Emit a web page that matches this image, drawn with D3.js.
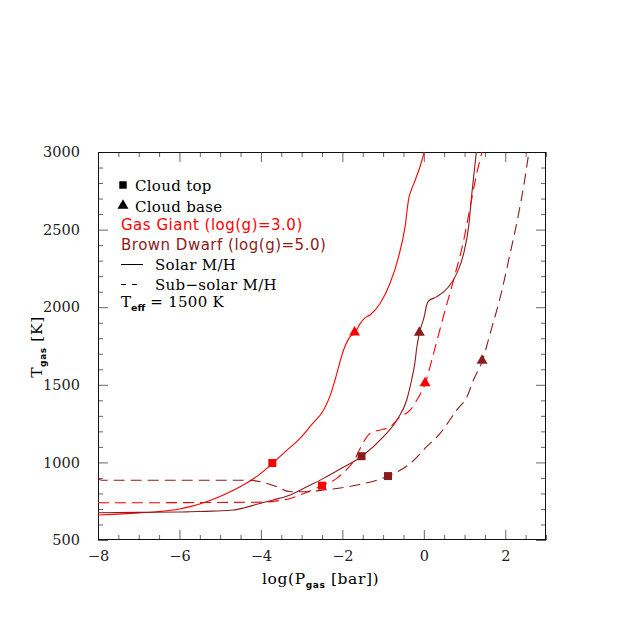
<!DOCTYPE html>
<html><head><meta charset="utf-8">
<script src="https://cdn.jsdelivr.net/npm/d3@7"></script>
<style>body{margin:0;background:#fff}svg{display:block}</style>
</head><body>
<svg id="c" width="638" height="638"></svg>
<script>
// ---- data ----
const ggSolarP = [-8, -7.5, -7, -6.56, -6, -5.74, -5.3, -4.92, -4.51, -4.1, -3.71, -3.4, -3.04, -2.75, -2.46, -2.3, -2.18, -1.97, -1.81, -1.70, -1.56, -1.45, -1.32, -1.07, -0.83, -0.62, -0.46, -0.37, -0.30, -0.21, -0.10, 0.01];
const ggSolarT = [661, 667, 674, 682, 700, 715, 750, 790, 843, 910, 994, 1070, 1155, 1245, 1338, 1430, 1531, 1724, 1810, 1832, 1896, 1930, 1950, 2025, 2154, 2325, 2519, 2701, 2760, 2820, 2900, 3000];

const bdSolarP = [-8, -7, -6, -5.74, -5.2, -4.68, -4.4, -4.10, -3.7, -3.28, -2.9, -2.46, -2.0, -1.52, -0.99, -0.66, -0.42, -0.30, -0.22, -0.17, -0.11, 0.01, 0.07, 0.12, 0.32, 0.61, 0.81, 0.98, 1.10, 1.18, 1.29];
const bdSolarT = [676, 678, 680, 682, 686, 693, 708, 730, 758, 790, 840, 897, 965, 1040, 1166, 1273, 1402, 1531, 1640, 1745, 1832, 1939, 2014, 2040, 2068, 2132, 2218, 2347, 2519, 2734, 3000];

const ggSubP = [-8, -7, -6, -5, -4.3, -3.86, -3.6, -3.28, -2.9, -2.5, -2.14, -1.97, -1.73, -1.52, -1.36, -1.2, -1.07, -0.83, -0.58, -0.33, -0.17, 0.03, 0.24, 0.48, 0.73, 0.98, 1.14, 1.30, 1.43];
const ggSubT = [740, 740, 741, 742, 743, 745, 752, 768, 805, 850, 897, 935, 1005, 1112, 1177, 1200, 1209, 1230, 1294, 1338, 1402, 1505, 1703, 1939, 2175, 2433, 2648, 2863, 3000];

const bdSubP = [-8, -7.97, -7.9, -7, -6, -5, -4.27, -4.02, -3.61, -3.28, -2.87, -2.46, -1.64, -0.88, -0.33, 0.07, 0.40, 0.81, 1.06, 1.22, 1.43, 1.63, 1.88, 2.12, 2.33, 2.45, 2.58];
const bdSubT = [905, 892, 885, 885, 885, 885, 885, 876, 843, 811, 811, 822, 854, 912, 994, 1101, 1187, 1338, 1423, 1531, 1649, 1832, 2068, 2347, 2605, 2777, 3000];

// cloud top / base markers: [logP, T] per curve (ggSolar, bdSolar, ggSub, bdSub)
const cloudTopP  = [-3.72, -1.53, -2.50, -0.88];
const cloudTopT  = [996, 1040, 850, 912];
const cloudBaseP = [-1.70, -0.11, 0.03, 1.43];
const cloudBaseT = [1832, 1830, 1505, 1649];
const markerGroup = ["gg", "bd", "gg", "bd"];

const xMajor = [-8, -6, -4, -2, 0, 2];
const yMajor = [500, 1000, 1500, 2000, 2500, 3000];

const RED = "#ff0000", DARK = "#8b1c1c";
const SERIF = "'DejaVu Serif', serif", SANS = "'DejaVu Sans', sans-serif";

// ---- layout ----
const L = 98, R = 546, T = 152, B = 540;
const x = d3.scaleLinear().domain([-8, 3]).range([L, R]);
const y = d3.scaleLinear().domain([500, 3000]).range([B, T]);
const svg = d3.select("#c");

svg.append("defs").append("clipPath").attr("id", "clip")
  .append("rect").attr("x", L).attr("y", T).attr("width", R - L).attr("height", B - T);

// ---- axes ----
const xMinor = d3.range(-8, 3.001, 0.5).filter(v => !xMajor.includes(v));
const yMinor = d3.range(500, 3001, 100).filter(v => !yMajor.includes(v));
const tickCol = "#666";
function styleAxis(g) {
  g.select(".domain").remove();
  g.selectAll(".tick line").attr("stroke", tickCol).attr("stroke-width", 1);
  g.selectAll(".tick text").attr("font-family", SERIF).attr("font-size", 14.5).attr("fill", "#222");
}
// bottom
svg.append("g").attr("transform", `translate(0,${B})`)
  .call(d3.axisBottom(x).tickValues(xMajor).tickSizeInner(-10).tickSizeOuter(0).tickPadding(11).tickFormat(d3.format("d")))
  .call(styleAxis);
svg.append("g").attr("transform", `translate(0,${B})`)
  .call(d3.axisBottom(x).tickValues(xMinor).tickSizeInner(-5).tickSizeOuter(0).tickFormat(""))
  .call(styleAxis);
// top
svg.append("g").attr("transform", `translate(0,${T})`)
  .call(d3.axisTop(x).tickValues(xMajor).tickSizeInner(-10).tickSizeOuter(0).tickFormat(""))
  .call(styleAxis);
svg.append("g").attr("transform", `translate(0,${T})`)
  .call(d3.axisTop(x).tickValues(xMinor).tickSizeInner(-5).tickSizeOuter(0).tickFormat(""))
  .call(styleAxis);
// left
svg.append("g").attr("transform", `translate(${L},0)`)
  .call(d3.axisLeft(y).tickValues(yMajor).tickSizeInner(-10).tickSizeOuter(0).tickPadding(18).tickFormat(d3.format("d")))
  .call(styleAxis);
svg.append("g").attr("transform", `translate(${L},0)`)
  .call(d3.axisLeft(y).tickValues(yMinor).tickSizeInner(-5).tickSizeOuter(0).tickFormat(""))
  .call(styleAxis);
// right
svg.append("g").attr("transform", `translate(${R},0)`)
  .call(d3.axisRight(y).tickValues(yMajor).tickSizeInner(-10).tickSizeOuter(0).tickFormat(""))
  .call(styleAxis);
svg.append("g").attr("transform", `translate(${R},0)`)
  .call(d3.axisRight(y).tickValues(yMinor).tickSizeInner(-5).tickSizeOuter(0).tickFormat(""))
  .call(styleAxis);

// frame
svg.append("rect").attr("x", L + 0.5).attr("y", T + 0.5).attr("width", R - L - 1).attr("height", B - T - 1)
  .attr("fill", "none").attr("stroke", "#111").attr("stroke-width", 1);

// ---- curves ----
const line = d3.line().x(d => x(d[0])).y(d => y(d[1])).curve(d3.curveMonotoneX);
const curves = [
  {P: ggSolarP, T: ggSolarT, c: RED, dash: null},
  {P: bdSolarP, T: bdSolarT, c: DARK, dash: null},
  {P: ggSubP, T: ggSubT, c: RED, dash: "11,6"},
  {P: bdSubP, T: bdSubT, c: DARK, dash: "11,6"}
];
const cg = svg.append("g").attr("clip-path", "url(#clip)");
curves.forEach(cv => {
  cg.append("path").datum(cv.P.map((p, i) => [p, cv.T[i]]))
    .attr("d", line).attr("fill", "none").attr("stroke", cv.c).attr("stroke-width", 1.1)
    .attr("stroke-dasharray", cv.dash);
});

// ---- markers ----
const sq = d3.symbol().type(d3.symbolSquare).size(64);
const tri = d3.symbol().type(d3.symbolTriangle).size(52);
cloudTopP.forEach((p, i) => {
  svg.append("path").attr("d", sq).attr("transform", `translate(${x(p)},${y(cloudTopT[i])})`)
    .attr("fill", markerGroup[i] === "gg" ? RED : DARK);
});
cloudBaseP.forEach((p, i) => {
  svg.append("path").attr("d", tri).attr("transform", `translate(${x(p)},${y(cloudBaseT[i]) - 1})`)
    .attr("fill", markerGroup[i] === "gg" ? RED : DARK);
});

// ---- legend ----
const lg = svg.append("g");
lg.append("path").attr("d", d3.symbol().type(d3.symbolSquare).size(56)).attr("transform", "translate(123,185)").attr("fill", "#000");
lg.append("text").attr("x", 135).attr("y", 191).attr("font-family", SERIF).attr("font-size", 15).attr("letter-spacing", 0.3).text("Cloud top");
lg.append("path").attr("d", d3.symbol().type(d3.symbolTriangle).size(52)).attr("transform", "translate(123,205.5)").attr("fill", "#000");
lg.append("text").attr("x", 135).attr("y", 211.5).attr("font-family", SERIF).attr("font-size", 15).attr("letter-spacing", 0.3).text("Cloud base");
lg.append("text").attr("x", 121).attr("y", 230).attr("font-family", SANS).attr("font-size", 15).attr("letter-spacing", 0.5).attr("fill", RED).text("Gas Giant (log(g)=3.0)");
lg.append("text").attr("x", 121).attr("y", 250).attr("font-family", SANS).attr("font-size", 15).attr("letter-spacing", 0.5).attr("fill", DARK).text("Brown Dwarf (log(g)=5.0)");
lg.append("line").attr("x1", 121).attr("x2", 143).attr("y1", 264.5).attr("y2", 264.5).attr("stroke", "#000");
lg.append("text").attr("x", 155).attr("y", 269.5).attr("font-family", SERIF).attr("font-size", 15).attr("letter-spacing", 0.3).text("Solar M/H");
lg.append("line").attr("x1", 121).attr("x2", 137).attr("y1", 284.5).attr("y2", 284.5).attr("stroke", "#000").attr("stroke-dasharray", "5,6");
lg.append("text").attr("x", 155).attr("y", 289.5).attr("font-family", SERIF).attr("font-size", 15).attr("letter-spacing", 0.3).text("Sub\u2212solar M/H");
const te = lg.append("text").attr("x", 121).attr("y", 306.5).attr("font-family", SERIF).attr("font-size", 15);
te.append("tspan").text("T");
te.append("tspan").attr("font-family", SANS).attr("font-weight", "bold").attr("font-size", 9.5).attr("dy", 4).text("eff");
te.append("tspan").attr("dy", -4).attr("letter-spacing", 0.3).text(" = 1500 K");

// ---- axis titles ----
const xt = svg.append("text").attr("x", 262).attr("y", 584).attr("font-family", SERIF).attr("font-size", 15.5).attr("letter-spacing", 0.6);
xt.append("tspan").text("log(P");
xt.append("tspan").attr("font-family", SANS).attr("font-weight", "bold").attr("font-size", 9).attr("dy", 4).text("gas");
xt.append("tspan").attr("dy", -4).text(" [bar])");

const yt = svg.append("text").attr("transform", "translate(42,347) rotate(-90)").attr("text-anchor", "middle")
  .attr("font-family", SERIF).attr("font-size", 15.5).attr("letter-spacing", 0.6);
yt.append("tspan").text("T");
yt.append("tspan").attr("font-family", SANS).attr("font-weight", "bold").attr("font-size", 9).attr("dy", 4).text("gas");
yt.append("tspan").attr("dy", -4).text(" [K]");
</script>
</body></html>
